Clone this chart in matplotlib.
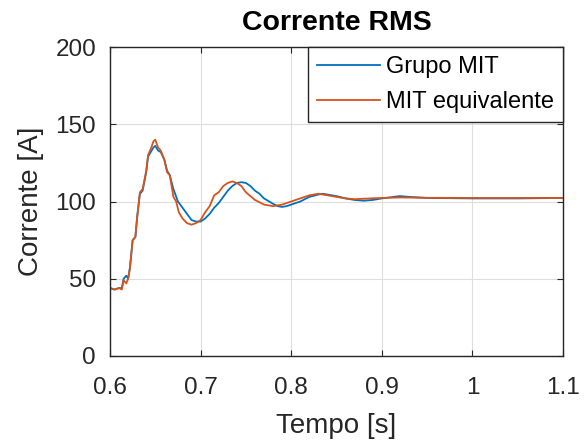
import matplotlib
matplotlib.use("Agg")
import matplotlib.pyplot as plt

plt.rcParams['font.family'] = ['Liberation Sans', 'DejaVu Sans']

t_grupo = [0.600, 0.605, 0.610, 0.613, 0.615, 0.618, 0.620, 0.622, 0.625, 0.628, 0.630, 0.633, 0.636,
           0.640, 0.642, 0.645, 0.648, 0.650, 0.653, 0.656, 0.660, 0.663, 0.666, 0.670, 0.675, 0.680,
           0.685, 0.690, 0.695, 0.700, 0.705, 0.710, 0.715, 0.720, 0.725, 0.730, 0.735, 0.740, 0.745,
           0.750, 0.755, 0.760, 0.765, 0.770, 0.780, 0.785, 0.790, 0.795, 0.800, 0.810, 0.820, 0.830,
           0.835, 0.840, 0.850, 0.860, 0.870, 0.880, 0.890, 0.900, 0.920, 0.930, 0.950, 1.000, 1.050, 1.100]
i_grupo = [44, 43, 44, 44, 50, 52, 50, 57, 75, 77, 90, 105, 107,
           119, 129, 132, 135, 136, 133, 132, 127, 120, 117, 108, 100, 96,
           92, 88, 87, 87, 89, 92, 96, 99, 103, 107, 110, 112, 112.5,
           112, 110, 107, 105, 102, 98.5, 97, 96.5, 97, 98, 100, 103, 104.5,
           105, 104.5, 103.5, 102, 101, 100.5, 101, 102, 103.5, 103, 102.3, 102, 102, 102.3]

t_equiv = [0.600, 0.605, 0.610, 0.613, 0.615, 0.618, 0.620, 0.622, 0.625, 0.628, 0.630, 0.633, 0.636,
           0.640, 0.642, 0.645, 0.648, 0.650, 0.653, 0.656, 0.660, 0.663, 0.666, 0.670, 0.673, 0.676,
           0.680, 0.685, 0.690, 0.695, 0.700, 0.705, 0.710, 0.715, 0.720, 0.725, 0.730, 0.735, 0.740,
           0.745, 0.750, 0.760, 0.770, 0.780, 0.790, 0.800, 0.810, 0.820, 0.830, 0.840, 0.850, 0.860,
           0.870, 0.880, 0.900, 0.920, 0.950, 1.000, 1.100]
i_equiv = [44, 43, 44, 43, 49, 47, 50, 57, 75, 77, 90, 106, 108,
           120, 130, 134, 139, 140, 135, 133, 127, 119, 117, 103, 100, 93,
           89, 86, 85, 86, 88, 93, 97, 104, 106, 110, 112, 113, 112,
           110, 106, 101, 98, 97, 98, 100, 102, 104, 105, 104, 103, 102,
           101.5, 101.8, 102.3, 102.6, 102.4, 102.3, 102.3]

x_ticks = [0.6, 0.7, 0.8, 0.9, 1.0, 1.1]
x_labels = ['0.6', '0.7', '0.8', '0.9', '1', '1.1']
y_ticks = [0, 50, 100, 150, 200]

fig = plt.figure(figsize=(5.86, 4.43), dpi=100)
ax = fig.add_axes([110 / 586, (443 - 356) / 443, 453 / 586, 309 / 443])

ax.plot(t_grupo, i_grupo, color='#0072BD', lw=1.3, label='Grupo MIT')
ax.plot(t_equiv, i_equiv, color='#D95319', lw=1.3, label='MIT equivalente')

ax.set_xlim(0.6, 1.1)
ax.set_ylim(0, 200)
ax.set_xticks(x_ticks)
ax.set_xticklabels(x_labels)
ax.set_yticks(y_ticks)
ax.grid(True, color='#dedede', lw=0.8)
ax.set_axisbelow(True)
for s in ax.spines.values():
    s.set_color('#262626')
    s.set_linewidth(1.0)
ax.tick_params(direction='in', length=4, width=0.8, top=True, right=True,
               labelsize=17.5, colors='#262626')
ax.tick_params(axis='x', pad=15)
ax.tick_params(axis='y', pad=10)
ax.set_title('Corrente RMS', fontsize=20.5, fontweight='bold', pad=12.5)
ax.set_xlabel('Tempo [s]', fontsize=20, color='#262626', labelpad=10.5)
ax.set_ylabel('Corrente [A]', fontsize=20, color='#262626', labelpad=8)

leg = ax.legend(loc='upper right', bbox_to_anchor=(1, 1), borderaxespad=0, fontsize=17,
                handlelength=2.67, handletextpad=0.25, fancybox=False, framealpha=1,
                edgecolor='#262626', borderpad=0.38, labelspacing=0.55)
leg.get_frame().set_linewidth(1.0)

fig.savefig('out.png', dpi=100)
